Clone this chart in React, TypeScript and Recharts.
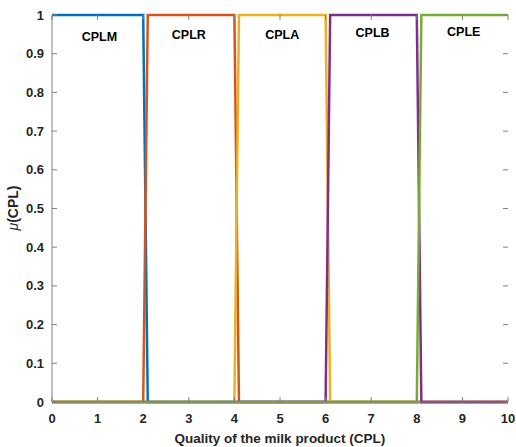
import { LineChart, Line, XAxis, YAxis, ReferenceDot } from "recharts";

// membership function breakpoints
const cplmX = [0, 2, 2.1, 10];
const cplmY = [1, 1, 0, 0];
const cplrX = [0, 2, 2.1, 4, 4.1, 10];
const cplrY = [0, 0, 1, 1, 0, 0];
const cplaX = [0, 4, 4.1, 6, 6.1, 10];
const cplaY = [0, 0, 1, 1, 0, 0];
const cplbX = [0, 6, 6.1, 8, 8.1, 10];
const cplbY = [0, 0, 1, 1, 0, 0];
const cpleX = [0, 8, 8.1, 10];
const cpleY = [0, 0, 1, 1];

const xTicks = [0, 1, 2, 3, 4, 5, 6, 7, 8, 9, 10];
const yTicks = [0, 0.1, 0.2, 0.3, 0.4, 0.5, 0.6, 0.7, 0.8, 0.9, 1];

const labelNames = ["CPLM", "CPLR", "CPLA", "CPLB", "CPLE"];
const labelX = [1.04, 3.0, 5.05, 7.03, 9.03];
const labelY = [0.945, 0.95, 0.95, 0.955, 0.957];

const toPoints = (xs: number[], ys: number[]) => xs.map((x, i) => ({ x, y: ys[i] }));

const series = [
  { name: "CPLM", data: toPoints(cplmX, cplmY), color: "#0072BD" },
  { name: "CPLR", data: toPoints(cplrX, cplrY), color: "#D95319" },
  { name: "CPLA", data: toPoints(cplaX, cplaY), color: "#EDB120" },
  { name: "CPLB", data: toPoints(cplbX, cplbY), color: "#7E2F8E" },
  { name: "CPLE", data: toPoints(cpleX, cpleY), color: "#77AC30" },
];

const W = 516;
const H = 447;
const LEFT = 52;
const RIGHT = 508;
const TOP = 15;
const BOTTOM = 402;
const FONT = "'Liberation Sans', Arial, sans-serif";
const TEXT = "#262626";
const AXIS = "#808080";

const XTick = ({ x, payload }: any) => (
  <g>
    <line x1={x} x2={x} y1={BOTTOM} y2={BOTTOM - 5} stroke={AXIS} />
    <line x1={x} x2={x} y1={TOP} y2={TOP + 5} stroke={AXIS} />
    <text x={x} y={423} textAnchor="middle" fontFamily={FONT} fontWeight="bold" fontSize={13} fill={TEXT}>
      {payload.value}
    </text>
  </g>
);

const YTick = ({ y, payload }: any) => (
  <g>
    <line x1={LEFT} x2={LEFT + 5} y1={y} y2={y} stroke={AXIS} />
    <line x1={RIGHT} x2={RIGHT - 5} y1={y} y2={y} stroke={AXIS} />
    <text x={LEFT - 8} y={y + 4.5} textAnchor="end" fontFamily={FONT} fontWeight="bold" fontSize={13} fill={TEXT}>
      {payload.value}
    </text>
  </g>
);

export default function App() {
  return (
    <div style={{ position: "absolute", left: 0, top: 0, background: "#fff" }}>
      <LineChart width={W} height={H} margin={{ top: TOP, right: W - RIGHT, bottom: 0, left: 0 }}>
        <XAxis
          dataKey="x"
          type="number"
          domain={[0, 10]}
          ticks={xTicks}
          allowDuplicatedCategory={false}
          height={H - BOTTOM}
          tickLine={false}
          axisLine={{ stroke: AXIS }}
          tick={<XTick />}
          interval={0}
          label={{
            content: () => (
              <text x={(LEFT + RIGHT) / 2} y={443} textAnchor="middle" fontFamily={FONT} fontWeight="bold" fontSize={13.5} fill={TEXT}>
                Quality of the milk product (CPL)
              </text>
            ),
          }}
        />
        <XAxis xAxisId="top" orientation="top" type="number" domain={[0, 10]} height={0} tick={false} tickLine={false} axisLine={{ stroke: AXIS }} />
        <YAxis
          type="number"
          domain={[0, 1]}
          ticks={yTicks}
          width={LEFT}
          tickLine={false}
          axisLine={{ stroke: AXIS }}
          tick={<YTick />}
          interval={0}
          label={{
            content: () => (
              <text
                x={18}
                y={208}
                transform={`rotate(-90 18 208)`}
                textAnchor="middle"
                fontFamily={FONT}
                fontWeight="bold"
                fontSize={14}
                fill={TEXT}
              >
                <tspan fontStyle="italic" fontWeight="normal">μ</tspan>(CPL)
              </text>
            ),
          }}
        />
        <YAxis yAxisId="right" orientation="right" type="number" domain={[0, 1]} width={0} tick={false} tickLine={false} axisLine={{ stroke: AXIS }} />
        {series.map((s) => (
          <Line
            key={s.name}
            data={s.data}
            dataKey="y"
            type="linear"
            stroke={s.color}
            strokeWidth={2.5}
            dot={false}
            isAnimationActive={false}
          />
        ))}
        {labelNames.map((n, i) => (
          <ReferenceDot
            key={n}
            x={labelX[i]}
            y={labelY[i]}
            r={0}
            fill="none"
            stroke="none"
            label={{ value: n, position: "center", fontFamily: FONT, fontWeight: "bold", fontSize: 12.5, fill: "#000" }}
          />
        ))}
      </LineChart>
    </div>
  );
}
